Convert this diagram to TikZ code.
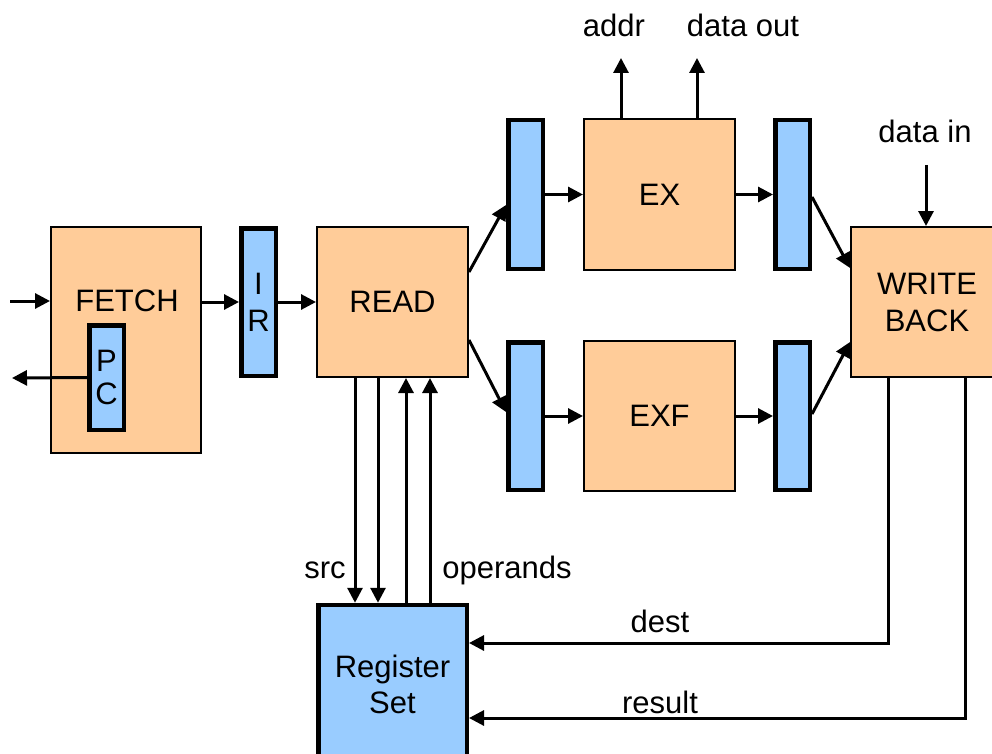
\documentclass[tikz,border=0pt]{standalone}
\usepackage{fontspec}
\setmainfont{Liberation Sans}
\usetikzlibrary{arrows.meta,calc}
\definecolor{stagefill}{HTML}{FFCC99}
\definecolor{latchfill}{HTML}{99CCFF}

\begin{document}
\begin{tikzpicture}[x=1pt,y=-1pt,
  font=\fontsize{31}{37}\selectfont,
  stage/.style={draw=black, line width=2pt, fill=stagefill, rectangle,
    inner sep=0pt, align=center},
  latch/.style={draw=black, line width=4.5pt, fill=latchfill, rectangle,
    inner sep=0pt, align=center, minimum width=34.5pt},
  arr/.style={line width=3pt, -{Triangle[length=15pt,width=15pt]}},
  lbl/.style={anchor=base, inner sep=0pt}]
\clip (0,0) rectangle (992,754);

% pipeline stages
\node[stage, minimum width=150pt, minimum height=226pt] (fetch) at (126,340) {};
\node (fetchtxt) at (127,301) {FETCH};
\node[latch, minimum height=104.5pt, font=\fontsize{31}{33}\selectfont] (pc) at (106.5,377.5) {P\\C};
\node[latch, minimum height=147.5pt] (ir) at (258.5,302) {I\\R};
\node[stage, minimum width=151pt, minimum height=150pt] (read) at (392.5,302) {READ};
\node[latch, minimum height=148.5pt] (l1) at (525.5,194.5) {};
\node[latch, minimum height=147.5pt] (l2) at (525.5,416) {};
\node[stage, minimum width=151pt, minimum height=151pt] (ex) at (659.5,194.5) {EX};
\node[stage, minimum width=151pt, minimum height=150pt] (exf) at (659.5,416) {EXF};
\node[latch, minimum height=148.5pt] (r1) at (792.5,194.5) {};
\node[latch, minimum height=147.5pt] (r2) at (792.5,416) {};
\node[stage, minimum width=152pt, minimum height=150pt] (wb) at (927,302) {WRITE\\BACK};

% register file
\node[latch, minimum width=148.5pt, minimum height=195pt] (reg) at (392.5,702.5) {};
\node[align=center, font=\fontsize{31}{36}\selectfont] (regtxt) at (392.5,684) {Register\\Set};

% free ends
\coordinate (fin) at (10,301);
\coordinate (pcout) at (12,378);
\coordinate (addrtip) at (621,58);
\coordinate (douttip) at (697,58);
\coordinate (dinsrc) at (926,165);

% front end
\draw[arr] (fin) -- (fin -| fetch.west);
\draw[arr] (pc.west) -- (pcout);
\draw[arr] (fetch.east |- ir.west) -- (ir.west);
\draw[arr] (ir.east) -- (read.west);

% issue to both execution paths
\draw[arr] ($(read.east)+(0,-30)$) -- ($(l1.west)+(0,10.5)$);
\draw[arr] ($(read.east)+(0,38)$) -- ($(l2.west)+(0,-4)$);
\draw[arr] (l1.east) -- (ex.west);
\draw[arr] (l2.east) -- (exf.west);
\draw[arr] (ex.east) -- (r1.west);
\draw[arr] (exf.east) -- (r2.west);
\draw[arr] ($(r1.east)+(0,2.5)$) -- ($(wb.west)+(0,-34)$);
\draw[arr] ($(r2.east)+(0,-2)$) -- ($(wb.west)+(0,40)$);

% memory ports
\draw[arr] (ex.north -| addrtip) -- (addrtip);
\draw[arr] (ex.north -| douttip) -- (douttip);
\draw[arr] (dinsrc) -- (dinsrc |- wb.north);

% register file ports
\draw[arr] ($(read.south)+(-37.5,0)$) -- ($(reg.north)+(-37.5,0)$);
\draw[arr] ($(read.south)+(-14.5,0)$) -- ($(reg.north)+(-14.5,0)$);
\draw[arr] ($(reg.north)+(13.5,0)$) -- ($(read.south)+(13.5,0)$);
\draw[arr] ($(reg.north)+(37.5,0)$) -- ($(read.south)+(37.5,0)$);
\draw[arr] ($(wb.south)+(-39,0)$) |- ($(reg.east)+(0,-59.5)$);
\draw[arr] ($(wb.south)+(38,0)$) |- ($(reg.east)+(0,15.5)$);

% signal labels
\node[lbl] (laddr) at (614,37) {addr};
\node[lbl] (ldout) at (743,37) {data out};
\node[lbl] (ldin) at (925,143) {data in};
\node[lbl] (lsrc) at (325,578) {src};
\node[lbl] (lops) at (507,578) {operands};
\node[lbl] (ldest) at (660,632) {dest};
\node[lbl] (lres) at (660,713) {result};
\end{tikzpicture}
\end{document}
